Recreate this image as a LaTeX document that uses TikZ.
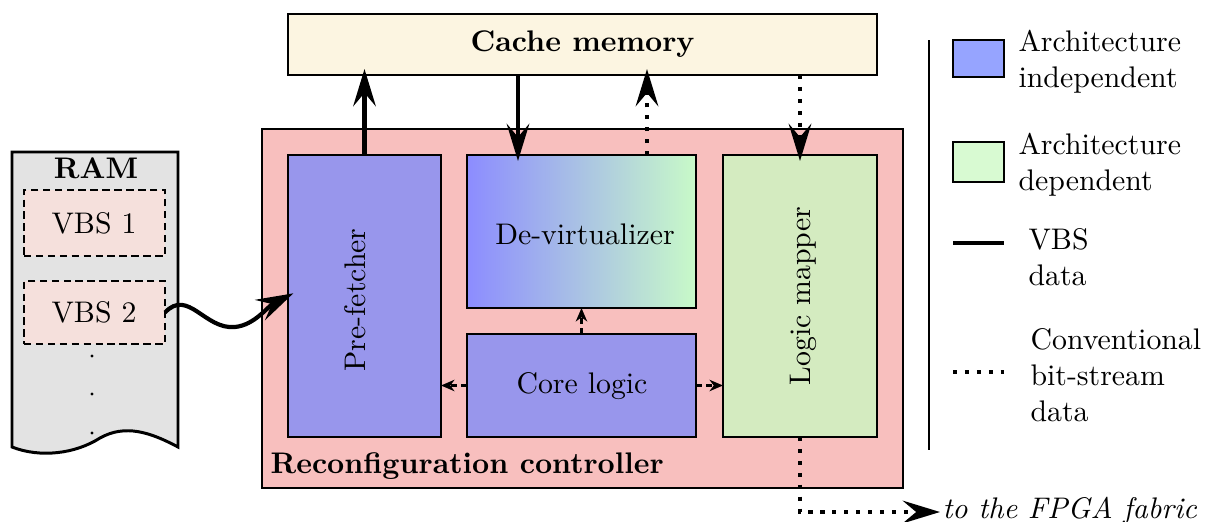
\documentclass[tikz,border=0pt]{standalone}
\usetikzlibrary{arrows.meta,calc}
\newcommand\pxu{0.3356pt}
\definecolor{cachec}{HTML}{FCF5E1}
\definecolor{ctrlc}{HTML}{F8BFBE}
\definecolor{indepc}{HTML}{9896EC}
\definecolor{depc}{HTML}{D4EBC0}
\definecolor{ramc}{HTML}{E3E3E3}
\definecolor{vbsc}{HTML}{F5E0DC}
\definecolor{legblue}{HTML}{96A4FF}
\definecolor{leggreen}{HTML}{D8FAD2}
\definecolor{shl}{HTML}{8C8CFF}
\definecolor{shr}{HTML}{C8FAC8}
\tikzset{
  box/.style={draw, line width=1pt, inner sep=0pt, outer sep=0pt, anchor=north west},
  vbsbox/.style={box, fill=vbsc, line width=0.8pt, dash pattern=on 2.5pt off 1.5pt},
  bigtip/.style={-{Stealth[length=12.5pt,width=7.6pt,inset=4.5pt]}, shorten >=-2pt},
  thickarr/.style={line width=1.4pt, bigtip},
  dotarr/.style={line width=1.4pt, dash pattern=on 1.4pt off 2.6pt, bigtip},
  smallarr/.style={line width=0.9pt, dash pattern=on 2pt off 1.5pt, -{Stealth[length=4.5pt,width=3.8pt,inset=1.4pt]}},
  legtext/.style={anchor=west, align=left, inner sep=0pt},
}
\begin{document}
\begin{tikzpicture}[x=\pxu, y=-\pxu]
\useasboundingbox (0,0) rectangle (1207,522);
% cache
\node[box, fill=cachec, minimum width=589*\pxu, minimum height=61*\pxu, font=\bfseries] (cache) at (288,14) {Cache memory};
% controller
\node[box, fill=ctrlc, minimum width=641*\pxu, minimum height=359*\pxu] (ctrl) at (262,129) {};
\node[anchor=west, inner sep=0pt, font=\bfseries] (ctrllab) at (270,466) {Reconfiguration controller};
% blocks
\node[box, fill=indepc, minimum width=153*\pxu, minimum height=282*\pxu] (pref) at (288,155) {};
\node[rotate=90, inner sep=0pt] (preflab) at (355,300) {Pre-fetcher};
\node[box, left color=shl, right color=shr, minimum width=229*\pxu, minimum height=153*\pxu] (devirt) at (467,155) {};
\node[inner sep=0pt] (devirtlab) at (585,234) {De-virtualizer};
\node[box, fill=indepc, minimum width=229*\pxu, minimum height=103*\pxu] (core) at (467,334) {};
\node[inner sep=0pt] (corelab) at (582,386) {Core logic};
\node[box, fill=depc, minimum width=154*\pxu, minimum height=282*\pxu] (lm) at (723,155) {};
\node[rotate=90, inner sep=0pt] (lmlab) at (803,296) {Logic mapper};
% RAM
\draw[fill=ramc, line width=1pt] (12,152) -- (178,152) -- (178,447)
  .. controls (150,432) and (125,424) .. (100,438)
  .. controls (75,454) and (40,458) .. (12,447) -- cycle;
\node[font=\bfseries, inner sep=0pt] (ram) at (96,168) {RAM};
\node[vbsbox, minimum width=141*\pxu, minimum height=66*\pxu] (vbs1) at (24,190) {};
\node (vbs1lab) at (94,223) {VBS 1};
\node[vbsbox, minimum width=141*\pxu, minimum height=63*\pxu] (vbs2) at (24,281) {};
\node (vbs2lab) at (94,312) {VBS 2};
\fill (92,356) circle (1.6);
\fill (92,394) circle (1.6);
\fill (92,433) circle (1.6);
% connectors
\draw[thickarr] (pref.north) -- (pref.north |- cache.south);
\draw[thickarr] ([xshift=51*\pxu]devirt.north west |- cache.south) -- ([xshift=51*\pxu]devirt.north west);
\draw[dotarr] ([xshift=180*\pxu]devirt.north west) -- ([xshift=180*\pxu]devirt.north west |- cache.south);
\draw[dotarr] (lm.north |- cache.south) -- (lm.north);
\draw[smallarr] (core.north) -- (core.north |- devirt.south);
\draw[smallarr] (core.west) -- (core.west -| pref.east);
\draw[smallarr] (core.east) -- (core.east -| lm.west);
\draw[thickarr] (vbs2.east) .. controls (188,288) and (205,330) .. (235,327)
  .. controls (255,325) and (268,306) .. (pref.west);
\node[anchor=west, inner sep=0pt, font=\itshape] (fpga) at (942,511) {to the FPGA fabric};
\draw[dotarr, shorten >=0pt] (lm.south) |- ([xshift=-2*\pxu, yshift=-1*\pxu]fpga.west);
% legend
\draw[line width=0.6pt] (929,40) -- (929,450);
\node[box, fill=legblue, minimum width=51*\pxu, minimum height=37*\pxu] (legb) at (953,40) {};
\node[legtext] (legbt) at (1018,62) {Architecture\\independent};
\node[box, fill=leggreen, minimum width=51*\pxu, minimum height=40*\pxu] (legg) at (953,142) {};
\node[legtext] (leggt) at (1018,165) {Architecture\\dependent};
\coordinate (la1) at (953,243);
\coordinate (la2) at (1004,243);
\draw[line width=1.6pt] (la1) -- (la2);
\node[legtext] (legvt) at (1028,257) {VBS\\data};
\coordinate (lb1) at (953,372);
\coordinate (lb2) at (1004,372);
\draw[line width=1.4pt, dash pattern=on 1.4pt off 2.6pt] (lb1) -- (lb2);
\node[legtext] (legct) at (1030,375) {Conventional\\bit-stream\\data};
\end{tikzpicture}
\end{document}
